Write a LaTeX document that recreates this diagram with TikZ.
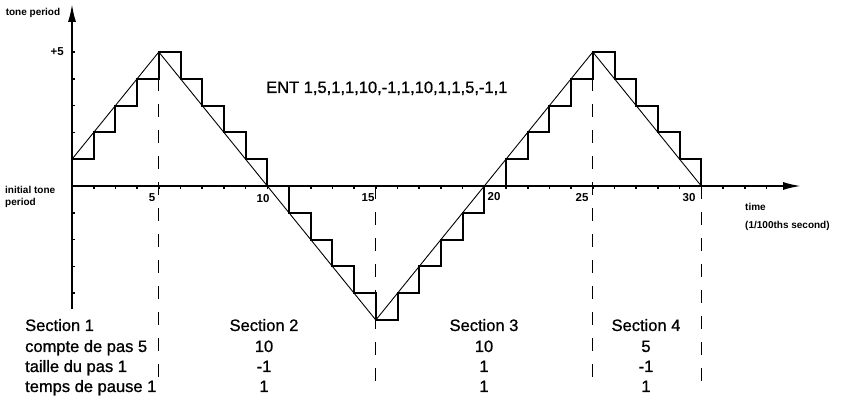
\documentclass[tikz,border=0pt]{standalone}
\usepackage{fontspec}
\setmainfont{Liberation Sans}
\newfontfamily\printfont{Liberation Sans}[FakeBold=0.9]
\usetikzlibrary{arrows.meta}
\begin{document}
\begin{tikzpicture}[x=1pt,y=1pt,
  axis/.style={line width=2pt,-{Latex[length=18pt,width=8pt]}},
  stair/.style={line width=2pt,line join=miter},
  ramp/.style={line width=0.9pt},
  guide/.style={line width=1.3pt,dash pattern=on 13pt off 13pt},
  tickmark/.style={line width=1.6pt},
  tbl/.style={font=\printfont\fontsize{16.5}{18}\selectfont,inner sep=0pt},
  small/.style={font=\bfseries\fontsize{10}{12}\selectfont,inner sep=0pt},
  num/.style={font=\bfseries\fontsize{11.5}{13}\selectfont,inner sep=0pt}]
\useasboundingbox (0,0) rectangle (843,396);
\begin{scope}[shift={(72,210)},x=21.7pt,y=26.8pt]
  \coordinate (ybot) at (0,-4.6);
  \coordinate (ytop) at (0,6.8);
  \coordinate (O) at (0,0);
  \coordinate (xend) at (33.6,0);
  \draw[axis] (ybot) -- (ytop);
  \draw[axis] (O) -- (xend);
  \foreach \k in {1,...,32} \draw[tickmark] (\k,0) -- ++(0,-3pt);
  \foreach \j in {-4,-3,-2,-1,1,2,3,4,5} \draw[tickmark] (0,\j) -- ++(3pt,0);
  % peaks and section ends
  \coordinate (p0) at (0,1);
  \coordinate (p1) at (4,5);
  \coordinate (p2) at (14,-5);
  \coordinate (p3) at (24,5);
  \coordinate (p4) at (29,0);
  \coordinate (a2) at (14,0);
  \coordinate (b1) at (4,-7.2);
  \coordinate (b2) at (14,-7.6);
  \coordinate (b3) at (24,-7.6);
  \coordinate (b4) at (29,-7.6);
  \draw[guide] (p1) -- (b1);
  \draw[guide] (a2) -- (b2);
  \draw[guide] (p3) -- (b3);
  \draw[guide] (p4) -- (b4);
  \draw[ramp] (p0) -- (p1) -- (p2) -- (p3) -- (p4);
  \draw[stair] (0,1)-|(1,2)-|(2,3)-|(3,4)-|(4,5)-|(5,4)-|(6,3)-|(7,2)-|(8,1)-|(9,0)-|(10,-1)-|(11,-2)-|(12,-3)-|(13,-4)-|(14,-5)-|(15,-4)-|(16,-3)-|(17,-2)-|(18,-1)-|(19,0)-|(20,1)-|(21,2)-|(22,3)-|(23,4)-|(24,5)-|(25,4)-|(26,3)-|(27,2)-|(28,1)-|(29,0);
\end{scope}
% axis labels
\node[small] (tp) at (33,383) {tone period};
\node[num,anchor=east] (p5) at (64,344) {+5};
\node[small,anchor=west] (it1) at (5,206) {initial tone};
\node[small,anchor=west] (it2) at (5,193) {period};
\node[num] (n5) at (152,198) {5};
\node[num] (n10) at (263,197) {10};
\node[num] (n15) at (368,198) {15};
\node[num] (n20) at (494,199) {20};
\node[num] (n25) at (582,198) {25};
\node[num] (n30) at (689,198) {30};
\node[small,anchor=west] (tm) at (745,189) {time};
\node[small,anchor=west] (tu) at (745,170) {(1/100ths second)};
\node[tbl,anchor=base west] (ent) at (266,303) {ENT 1,5,1,1,10,-1,1,10,1,1,5,-1,1};
% table
\node[tbl,anchor=base west] (s1) at (25,65) {Section 1};
\node[tbl,anchor=base west] (c1) at (25,44) {compte de pas 5};
\node[tbl,anchor=base west] (t1) at (25,24) {taille du pas 1};
\node[tbl,anchor=base west] (d1) at (25,4) {temps de pause 1};
\node[tbl,anchor=base] (s2) at (264,65) {Section 2};
\node[tbl,anchor=base] (c2) at (264,44) {10};
\node[tbl,anchor=base] (t2) at (264,24) {-1};
\node[tbl,anchor=base] (d2) at (264,4) {1};
\node[tbl,anchor=base] (s3) at (484,65) {Section 3};
\node[tbl,anchor=base] (c3) at (484,44) {10};
\node[tbl,anchor=base] (t3) at (484,24) {1};
\node[tbl,anchor=base] (d3) at (484,4) {1};
\node[tbl,anchor=base] (s4) at (646,65) {Section 4};
\node[tbl,anchor=base] (c4) at (646,44) {5};
\node[tbl,anchor=base] (t4) at (646,24) {-1};
\node[tbl,anchor=base] (d4) at (646,4) {1};
\end{tikzpicture}
\end{document}
